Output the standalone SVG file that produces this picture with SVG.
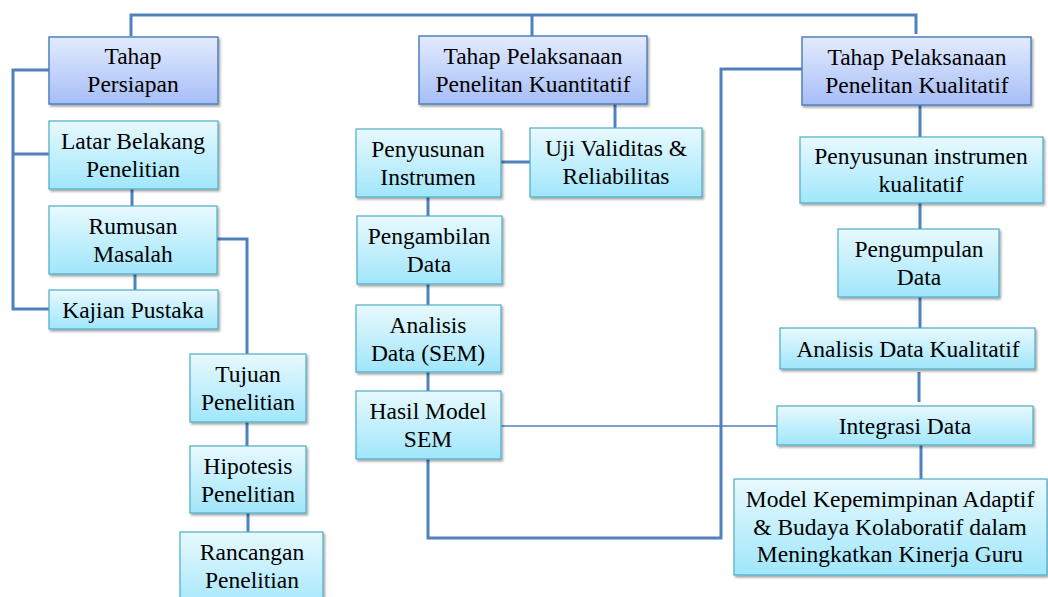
<svg xmlns="http://www.w3.org/2000/svg" width="1048" height="597" viewBox="0 0 1048 597">
<defs>
<linearGradient id="gHead" x1="0" y1="0" x2="0" y2="1">
<stop offset="0" stop-color="#E3EBFD"/>
<stop offset="1" stop-color="#A6BEF8"/>
</linearGradient>
<linearGradient id="gSub" x1="0" y1="0" x2="0" y2="1">
<stop offset="0" stop-color="#E8F9FE"/>
<stop offset="1" stop-color="#A0E6FB"/>
</linearGradient>
<filter id="sh" x="-10%" y="-10%" width="120%" height="130%">
<feDropShadow dx="1.5" dy="2" stdDeviation="1.2" flood-color="#000" flood-opacity="0.35"/>
</filter>
</defs>
<style>
.head{fill:url(#gHead);stroke:#4F81BD;stroke-width:1.5;filter:url(#sh)}
.sub{fill:url(#gSub);stroke:#4BACC6;stroke-width:1.2;filter:url(#sh)}
text{font-family:"Liberation Serif","Times New Roman",serif;font-size:23.5px;fill:#000;text-anchor:middle}
.c{fill:none;stroke:#4F81BD;stroke-width:3}
.t{fill:none;stroke:#4F81BD;stroke-width:1.5}
</style>
<rect width="1048" height="597" fill="#fff"/>
<g id="connectors">
<polyline class="c" points="131,36 131,15 916,15 916,34"/>
<line class="c" x1="532" y1="15" x2="532" y2="36"/>
<polyline class="c" points="49,70 13,70 13,309 49,309"/>
<line class="c" x1="13" y1="154" x2="49" y2="154"/>
<line class="c" x1="132" y1="189" x2="132" y2="206"/>
<line class="c" x1="135" y1="274" x2="135" y2="290"/>
<polyline class="c" points="217,239 247,239 247,354"/>
<line class="c" x1="247" y1="422" x2="247" y2="446"/>
<line class="c" x1="248" y1="513" x2="248" y2="532"/>
<line class="c" x1="615" y1="104" x2="615" y2="128"/>
<line class="c" x1="501" y1="162" x2="530" y2="162"/>
<line class="c" x1="428" y1="197" x2="428" y2="216"/>
<line class="c" x1="428" y1="284" x2="428" y2="305"/>
<line class="c" x1="428" y1="372" x2="428" y2="391"/>
<polyline class="c" points="428,459 428,538 721,538 721,69 802,69"/>
<line class="t" x1="501" y1="426" x2="777" y2="426"/>
<line class="c" x1="920" y1="105" x2="920" y2="137"/>
<line class="c" x1="920" y1="203" x2="920" y2="229"/>
<line class="c" x1="920" y1="297" x2="920" y2="328"/>
<line class="c" x1="919" y1="372" x2="919" y2="402"/>
<line class="c" x1="921" y1="445" x2="921" y2="479"/>
</g>
<g id="tahap-persiapan"><rect class="head" x="49" y="37" width="169" height="67"/><text x="133" y="64">Tahap</text><text x="133" y="92">Persiapan</text></g>
<g id="latar-belakang"><rect class="sub" x="49" y="121" width="169" height="68"/><text x="133" y="149">Latar Belakang</text><text x="133" y="177">Penelitian</text></g>
<g id="rumusan-masalah"><rect class="sub" x="49" y="206" width="168" height="68"/><text x="133" y="234">Rumusan</text><text x="133" y="262">Masalah</text></g>
<g id="kajian-pustaka"><rect class="sub" x="49" y="290" width="169" height="39"/><text x="133" y="318">Kajian Pustaka</text></g>
<g id="tujuan-penelitian"><rect class="sub" x="190" y="354" width="116" height="68"/><text x="248" y="382">Tujuan</text><text x="248" y="410">Penelitian</text></g>
<g id="hipotesis-penelitian"><rect class="sub" x="190" y="446" width="116" height="67"/><text x="248" y="474">Hipotesis</text><text x="248" y="502">Penelitian</text></g>
<g id="rancangan-penelitian"><rect class="sub" x="180" y="532" width="143" height="80"/><text x="252" y="560">Rancangan</text><text x="252" y="588">Penelitian</text></g>
<g id="tahap-kuantitatif"><rect class="head" x="419" y="36" width="228" height="68"/><text x="533" y="64">Tahap Pelaksanaan</text><text x="533" y="92">Penelitan Kuantitatif</text></g>
<g id="penyusunan-instrumen"><rect class="sub" x="356" y="129" width="145" height="68"/><text x="428" y="157">Penyusunan</text><text x="428" y="185">Instrumen</text></g>
<g id="uji-validitas"><rect class="sub" x="530" y="128" width="172" height="69"/><text x="616" y="156">Uji Validitas &amp;</text><text x="616" y="184">Reliabilitas</text></g>
<g id="pengambilan-data"><rect class="sub" x="357" y="216" width="145" height="68"/><text x="429" y="244">Pengambilan</text><text x="429" y="272">Data</text></g>
<g id="analisis-sem"><rect class="sub" x="356" y="305" width="145" height="67"/><text x="428" y="333">Analisis</text><text x="428" y="361">Data (SEM)</text></g>
<g id="hasil-sem"><rect class="sub" x="356" y="391" width="145" height="68"/><text x="428" y="419">Hasil Model</text><text x="428" y="447">SEM</text></g>
<g id="tahap-kualitatif"><rect class="head" x="802" y="37" width="229" height="68"/><text x="917" y="65">Tahap Pelaksanaan</text><text x="917" y="93">Penelitan Kualitatif</text></g>
<g id="penyusunan-kualitatif"><rect class="sub" x="800" y="137" width="243" height="66"/><text x="921" y="164">Penyusunan instrumen</text><text x="921" y="192">kualitatif</text></g>
<g id="pengumpulan-data"><rect class="sub" x="838" y="229" width="161" height="68"/><text x="919" y="257">Pengumpulan</text><text x="919" y="285">Data</text></g>
<g id="analisis-kualitatif"><rect class="sub" x="780" y="328" width="255" height="41"/><text x="908" y="357">Analisis Data Kualitatif</text></g>
<g id="integrasi-data"><rect class="sub" x="777" y="406" width="256" height="39"/><text x="905" y="434">Integrasi Data</text></g>
<g id="model-akhir"><rect class="sub" x="734" y="479" width="313" height="96"/><text x="890" y="507">Model Kepemimpinan Adaptif</text><text x="890" y="535">&amp; Budaya Kolaboratif dalam</text><text x="890" y="562">Meningkatkan Kinerja Guru</text></g>
</svg>
